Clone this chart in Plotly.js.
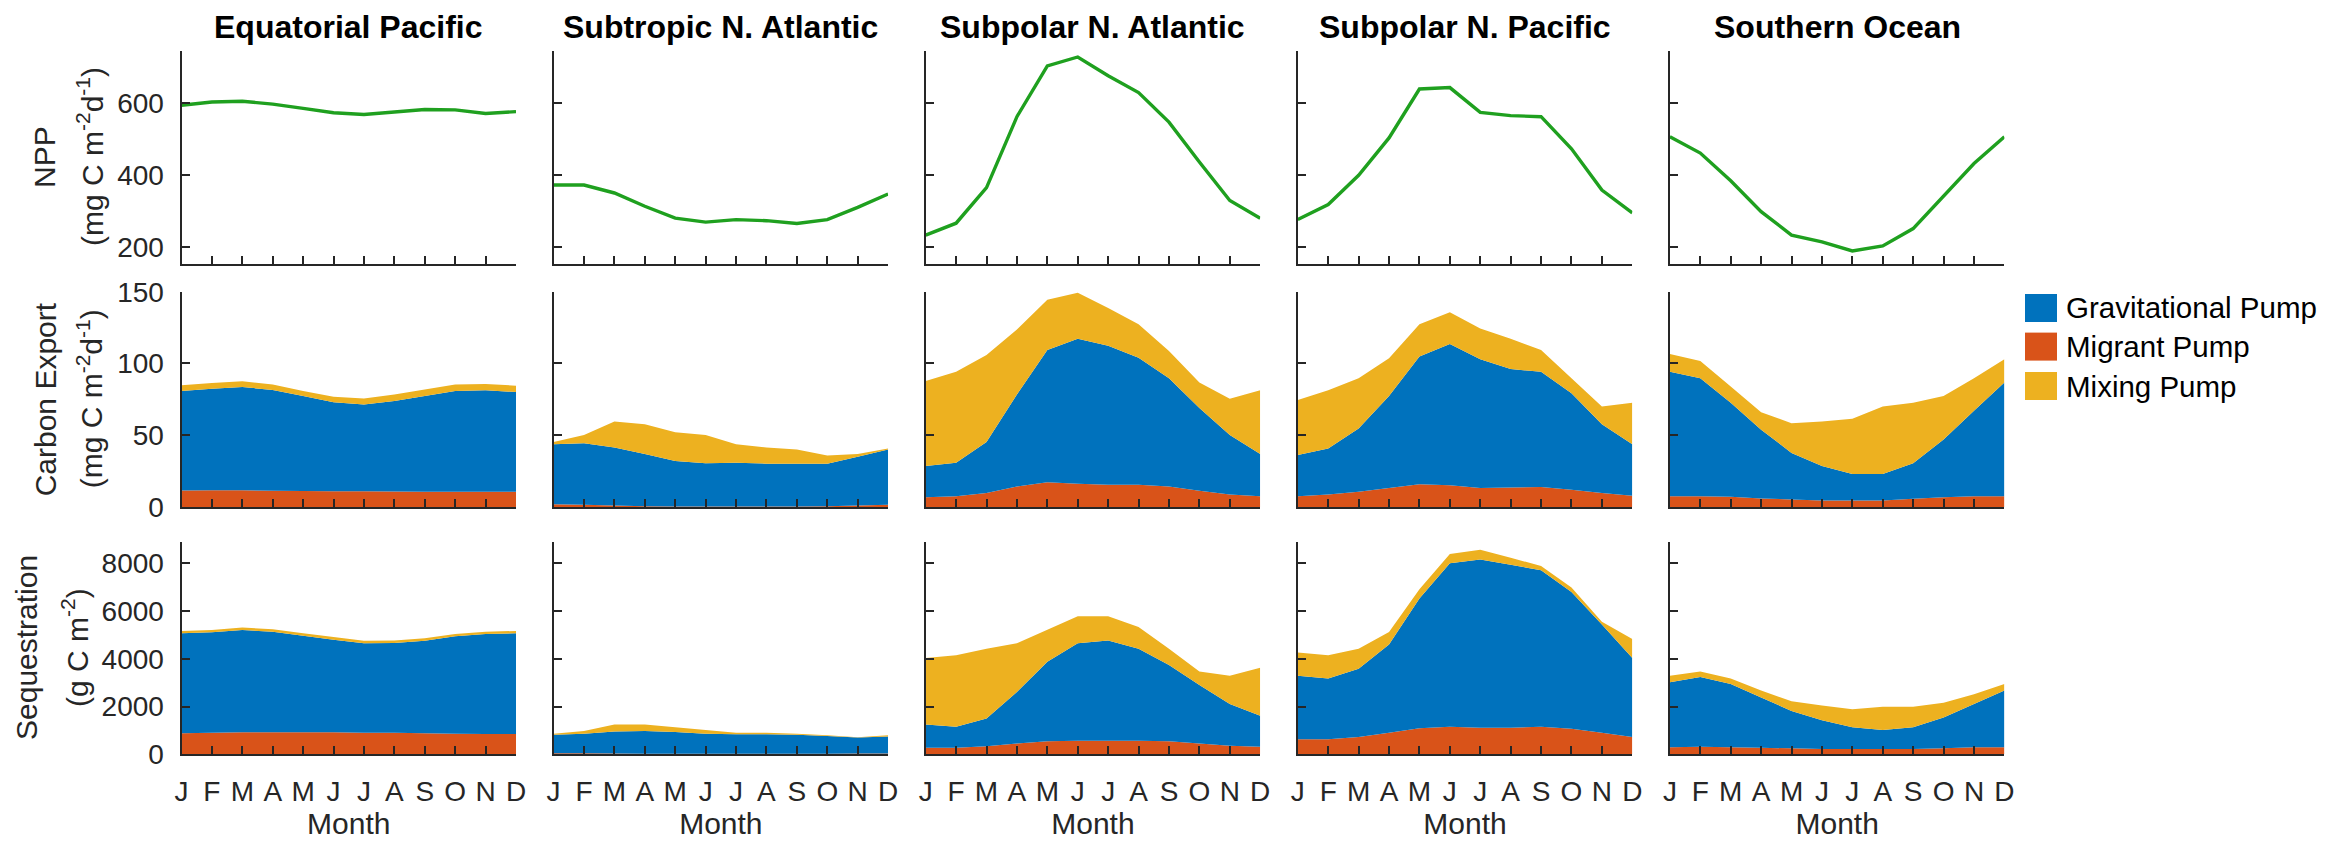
<!DOCTYPE html>
<html>
<head>
<meta charset="utf-8">
<script src="https://cdn.plot.ly/plotly-3.0.1.min.js"></script>
<style>html,body{margin:0;padding:0;background:#fff;}#chart{width:2341px;height:845px;}</style>
</head>
<body>
<div id="chart"></div>
<script>
// ---------- data ----------
const months = ['J','F','M','A','M','J','J','A','S','O','N','D'];
const monthIdx = [1,2,3,4,5,6,7,8,9,10,11,12];
const regions = ['Equatorial Pacific','Subtropic N. Atlantic','Subpolar N. Atlantic','Subpolar N. Pacific','Southern Ocean'];
const pumpNames = ['Gravitational Pump','Migrant Pump','Mixing Pump'];

// NPP (mg C m-2 d-1)
const nppEqPac = [595,604,606,598,586,574,569,576,583,582,572,577];
const nppStNA  = [373,373,351,314,281,270,277,274,266,277,311,348];
const nppSpNA  = [234,267,366,563,704,729,677,630,548,437,330,281];
const nppSpNP  = [277,319,400,504,640,644,575,566,563,474,359,296];
const nppSO    = [507,462,385,299,234,215,190,204,252,341,433,507];

// Carbon export (mg C m-2 d-1)
const expMigEqPac = [11.5,11.6,11.6,11.4,11.2,11.0,10.9,10.8,10.7,10.7,10.7,10.7];
const expGraEqPac = [69.3,70.8,72.0,70.1,66.1,62.0,60.5,63.0,66.6,70.1,70.6,69.4];
const expMixEqPac = [4.0,4.0,4.0,3.8,3.6,3.8,4.2,4.5,4.6,4.5,4.4,4.4];

const expMigStNA = [2.0,1.5,1.0,0.5,0.4,0.3,0.3,0.3,0.3,0.5,1.0,1.5];
const expGraStNA = [41.7,43.0,40.5,36.4,31.6,30.2,30.6,29.9,29.9,29.7,34.0,38.5];
const expMixStNA = [1.5,5.6,18.0,20.7,20.0,19.6,12.8,11.3,9.8,5.6,1.9,0.7];

const expMigSpNA = [6.8,7.5,9.8,14.3,17.3,16.2,15.5,15.5,14.3,11.3,8.7,7.5];
const expGraSpNA = [21.8,23.4,35.4,64.1,92.0,101.0,96.8,88.5,75.4,57.7,41.4,29.4];
const expMixSpNA = [59.2,63.3,60.7,45.2,35.1,32.1,26.4,23.4,18.9,17.7,25.3,44.5];

const expMigSpNP = [7.5,8.7,10.6,13.2,15.8,15.1,13.2,13.6,14.0,12.1,9.8,7.9];
const expGraSpNP = [28.7,32.0,44.1,64.1,89.0,98.4,89.7,82.5,80.2,67.1,47.9,35.8];
const expMixSpNP = [38.4,40.7,35.0,26.3,22.6,22.2,21.4,21.1,15.1,10.5,12.4,29.0];

const expMigSO = [7.5,7.5,7.2,6.0,5.3,4.5,4.5,4.5,5.7,6.8,7.5,7.5];
const expGraSO = [86.7,82.2,65.5,47.9,32.4,24.1,18.5,18.5,24.8,40.3,59.6,79.2];
const expMixSO = [12.4,12.0,11.3,12.1,20.7,31.0,38.4,47.1,42.2,30.2,22.6,16.2];

// Sequestration (g C m-2)
const seqMigEqPac = [880,900,920,920,920,920,900,900,880,860,850,850];
const seqGraEqPac = [4184,4206,4283,4214,4046,3879,3745,3759,3877,4078,4186,4214];
const seqMixEqPac = [95,100,105,100,100,110,110,105,100,95,95,100];

const seqMigStNA = [40,40,30,25,20,20,20,20,20,25,30,35];
const seqGraStNA = [776,821,922,949,909,841,818,818,796,745,672,713];
const seqMixStNA = [45,113,294,272,204,159,68,68,45,23,10,45];

const seqMigSpNA = [272,272,340,453,544,566,566,566,544,453,363,317];
const seqGraSpNA = [974,884,1156,2153,3331,4080,4193,3853,3195,2447,1744,1292];
const seqMixSpNA = [2787,2991,2923,2040,1337,1133,1020,907,680,567,1179,2017];

const seqMigSpNP = [634,634,725,906,1088,1156,1110,1110,1156,1065,906,725];
const seqGraSpNP = [2652,2539,2856,3694,5438,6844,7048,6821,6549,5733,4533,3308];
const seqMixSpNP = [974,974,838,522,385,384,407,294,181,181,113,794];

const seqMigSO = [295,317,295,272,250,227,227,227,227,250,295,295];
const seqGraSO = [2719,2923,2651,2108,1563,1201,906,793,906,1291,1812,2379];
const seqMixSO = [272,227,227,294,408,612,748,974,861,612,409,272];

// axis settings
const yRanges = [[155,747],[0,150],[0,8900]];
const yTicks = [[200,400,600],[0,50,100,150],[0,2000,4000,6000,8000]];

// ---------- assemble ----------
const nppAll = [nppEqPac,nppStNA,nppSpNA,nppSpNP,nppSO];
const expAll = [
  [expMigEqPac,expGraEqPac,expMixEqPac],
  [expMigStNA,expGraStNA,expMixStNA],
  [expMigSpNA,expGraSpNA,expMixSpNA],
  [expMigSpNP,expGraSpNP,expMixSpNP],
  [expMigSO,expGraSO,expMixSO]
];
const seqAll = [
  [seqMigEqPac,seqGraEqPac,seqMixEqPac],
  [seqMigStNA,seqGraStNA,seqMixStNA],
  [seqMigSpNA,seqGraSpNA,seqMixSpNA],
  [seqMigSpNP,seqGraSpNP,seqMixSpNP],
  [seqMigSO,seqGraSO,seqMixSO]
];

const W = 2341, H = 845;
const C_GRAV = '#0072BD', C_MIG = '#D95319', C_MIX = '#EDB120', C_NPP = '#1FA01F';
const AX = '#262626';
const FONT = 'Liberation Sans, Arial, Helvetica, sans-serif';
const colLeft = 181.5, colWidth = 334.5, colStep = 372.1;
const rowsPx = [[50.5,263.5],[291.7,507],[541.7,754.3]];

const px = v => v / W;
const py = v => 1 - v / H;

const traces = [];
const layout = {
  width: W, height: H,
  margin: {l:0, r:0, t:0, b:0},
  paper_bgcolor: '#ffffff', plot_bgcolor: 'rgba(0,0,0,0)',
  showlegend: false,
  font: {family: FONT, color: AX},
  annotations: [], shapes: []
};

for (let r = 0; r < 3; r++) {
  for (let c = 0; c < 5; c++) {
    const n = r * 5 + c + 1;
    const s = n === 1 ? '' : String(n);
    const xa = 'x' + s, ya = 'y' + s;
    const xax = {
      domain: [px(colLeft + colStep * c), px(colLeft + colStep * c + colWidth)],
      anchor: ya, range: [1, 12], tickmode: 'array', tickvals: monthIdx,
      showticklabels: r === 2, ticks: 'inside', ticklen: 8, tickwidth: 2, tickcolor: AX,
      showline: true, linecolor: AX, linewidth: 2, showgrid: false, zeroline: false,
      tickfont: {size: 28, color: AX, family: FONT}, ticklabelstandoff: 11
    };
    if (r === 2) {
      xax.ticktext = months;
      xax.title = {text: 'Month', font: {size: 30, color: AX, family: FONT}, standoff: 6};
    }
    layout['xaxis' + s] = xax;
    layout['yaxis' + s] = {
      domain: [py(rowsPx[r][1]), py(rowsPx[r][0])],
      anchor: xa, range: yRanges[r], tickmode: 'array', tickvals: yTicks[r],
      showticklabels: c === 0, ticks: 'inside', ticklen: 8, tickwidth: 2, tickcolor: AX,
      showline: true, linecolor: AX, linewidth: 2, showgrid: false, zeroline: false,
      tickfont: {size: 28, color: AX, family: FONT}, ticklabelstandoff: 10
    };
    if (r === 0) {
      traces.push({type: 'scatter', mode: 'lines', x: monthIdx, y: nppAll[c], xaxis: xa, yaxis: ya,
        line: {color: C_NPP, width: 3.4}, name: 'NPP', showlegend: false});
    } else {
      const src = r === 1 ? expAll[c] : seqAll[c];
      const cols = [C_MIG, C_GRAV, C_MIX];
      const names = [pumpNames[1], pumpNames[0], pumpNames[2]];
      for (let k = 0; k < 3; k++) {
        traces.push({type: 'scatter', mode: 'none', x: monthIdx, y: src[k], xaxis: xa, yaxis: ya,
          stackgroup: 'sg' + n, fillcolor: cols[k], name: names[k], showlegend: false});
      }
    }
  }
}
// column titles
for (let c = 0; c < 5; c++) {
  layout.annotations.push({text: '<b>' + regions[c] + '</b>', xref: 'paper', yref: 'paper',
    x: px(colLeft + colStep * c + colWidth / 2), y: py(27), xanchor: 'center', yanchor: 'middle',
    showarrow: false, font: {size: 32, color: '#000000', family: FONT}});
}
// y-axis titles
const yTitles = [
  {a: 'NPP', ax: 45, b: '(mg C m<sup>-2</sup>d<sup>-1</sup>)', bx: 90},
  {a: 'Carbon Export', ax: 45, b: '(mg C m<sup>-2</sup>d<sup>-1</sup>)', bx: 90},
  {a: 'Sequestration', ax: 26, b: '(g C m<sup>-2</sup>)', bx: 75}
];
for (let r = 0; r < 3; r++) {
  const yc = py((rowsPx[r][0] + rowsPx[r][1]) / 2);
  layout.annotations.push({text: yTitles[r].a, xref: 'paper', yref: 'paper', x: px(yTitles[r].ax), y: yc,
    xanchor: 'center', yanchor: 'middle', textangle: -90, showarrow: false, font: {size: 30, color: AX, family: FONT}});
  layout.annotations.push({text: yTitles[r].b, xref: 'paper', yref: 'paper', x: px(yTitles[r].bx), y: yc,
    xanchor: 'center', yanchor: 'middle', textangle: -90, showarrow: false, font: {size: 30, color: AX, family: FONT}});
}
// legend (manual, matching MATLAB swatches)
const legColors = [C_GRAV, C_MIG, C_MIX];
const legRows = [308, 346.6, 386];
for (let k = 0; k < 3; k++) {
  layout.shapes.push({type: 'rect', xref: 'paper', yref: 'paper', x0: px(2025), x1: px(2057),
    y0: py(legRows[k] + 14), y1: py(legRows[k] - 14), fillcolor: legColors[k], line: {width: 0}});
  layout.annotations.push({text: pumpNames[k], xref: 'paper', yref: 'paper', x: px(2064), y: py(legRows[k]),
    xanchor: 'left', yanchor: 'middle', showarrow: false, font: {size: 29.5, color: '#000000', family: FONT}});
}

Plotly.newPlot('chart', traces, layout, {staticPlot: true, displayModeBar: false});
</script>
</body>
</html>
